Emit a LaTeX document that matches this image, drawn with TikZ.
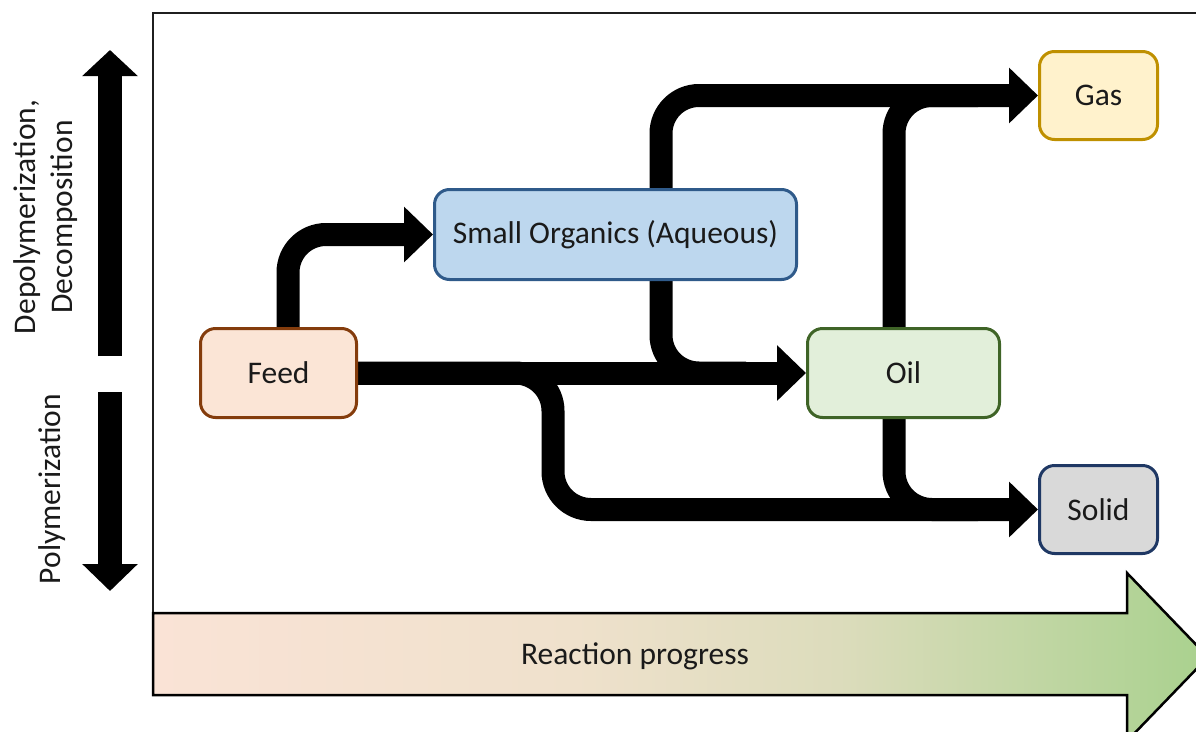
\documentclass[tikz,border=0pt]{standalone}
\usepackage{fontspec}
\setmainfont{Carlito}
\usetikzlibrary{arrows.meta,calc}
\definecolor{feedfill}{HTML}{FBE5D6}
\definecolor{feeddraw}{HTML}{843C0C}
\definecolor{orgfill}{HTML}{BDD7EE}
\definecolor{orgdraw}{HTML}{2F5A8A}
\definecolor{oilfill}{HTML}{E2EFDA}
\definecolor{oildraw}{HTML}{3F6427}
\definecolor{gasfill}{HTML}{FFF2CC}
\definecolor{gasdraw}{HTML}{BF9000}
\definecolor{solfill}{HTML}{D9D9D9}
\definecolor{soldraw}{HTML}{1F3864}
\definecolor{rpa}{HTML}{FAE3D6}
\definecolor{rpb}{HTML}{EFE1CC}
\definecolor{rpc}{HTML}{DCDCBC}
\definecolor{rpd}{HTML}{A9D18E}
\definecolor{txt}{HTML}{1A1A1A}
\pgfdeclarehorizontalshading{progress}{100bp}{color(0bp)=(rpa); color(25bp)=(rpa); color(45bp)=(rpb); color(57.5bp)=(rpc); color(75bp)=(rpd); color(100bp)=(rpd)}
\pgfdeclarelayer{bg}
\pgfsetlayers{bg,main}
\tikzset{
  box/.style={draw, line width=3pt, rounded corners=15pt, inner sep=0pt, text=txt},
  flow/.style={draw=black, line width=23pt, line cap=butt, rounded corners=38pt},
  tip/.style={-{Triangle[length=29pt,width=54pt]}},
  frameline/.style={draw=black!88, line width=2.5pt},
  label/.style={text=txt, inner sep=0pt}
}
\begin{document}
\begin{tikzpicture}[x=1pt,y=-1pt,font=\fontsize{31.5}{37}\selectfont]
\useasboundingbox (0,0) rectangle (1196,731);

% frame
\coordinate (fb) at (153,655);
\coordinate (fc) at (153,13);
\coordinate (fr) at (1200,13);
\draw[frameline] (fb) -- (fc) -- (fr);

% progress arrow
\path[draw=black, line width=2.5pt, shading=progress]
  (153,613) -- (1127,613) -- (1127,573) -- (1208,657) -- (1127,741) -- (1127,695) -- (153,695) -- cycle;
\node[label, anchor=base] (rp) at (635,664) {Reaction progress};

% vertical arrows
\coordinate (u0) at (110,356);
\coordinate (u1) at (110,50);
\coordinate (d0) at (110,392);
\coordinate (d1) at (110,591);
\draw[draw=black, line width=24pt, -{Triangle[length=26pt,width=54pt]}] (u0) -- (u1);
\draw[draw=black, line width=24pt, -{Triangle[length=27pt,width=54pt]}] (d0) -- (d1);
\node[label, rotate=90, align=center] (dep) at (46,217) {Depolymerization,\\Decomposition};
\node[label, rotate=90] (pol) at (52,489) {Polymerization};

% nodes
\node[box, fill=feedfill, draw=feeddraw, minimum width=156pt, minimum height=89pt] (feed) at (278.5,373) {Feed};
\node[box, fill=orgfill, draw=orgdraw, minimum width=362pt, minimum height=90pt] (org) at (615.5,234.5) {Small Organics (Aqueous)};
\node[box, fill=oilfill, draw=oildraw, minimum width=192pt, minimum height=89pt] (oil) at (903.5,373) {Oil};
\node[box, fill=gasfill, draw=gasdraw, minimum width=118pt, minimum height=88pt] (gas) at (1098.5,95.5) {Gas};
\node[box, fill=solfill, draw=soldraw, minimum width=118pt, minimum height=88pt] (solid) at (1098.5,509.5) {Solid};

% connectors (behind boxes)
\coordinate (bx) at (553,0);
\coordinate (ox) at (661,0);
\begin{pgfonlayer}{bg}
\draw[flow, tip] ([xshift=9.5pt]feed.north) |- (org.west);
\draw[flow, tip] (feed.east) -- (oil.west);
\draw[flow, tip] (feed.east) -| (bx |- solid.west) -- (solid.west);
\draw[flow, tip] ([xshift=-60pt]oil.west) -| (ox |- gas.west) -- (gas.west);
\draw[flow] ([xshift=-9.5pt]oil.north) |- ([xshift=-60pt]gas.west);
\draw[flow] ([xshift=-9.5pt]oil.south) |- ([xshift=-60pt]solid.west);
\end{pgfonlayer}
\end{tikzpicture}
\end{document}
